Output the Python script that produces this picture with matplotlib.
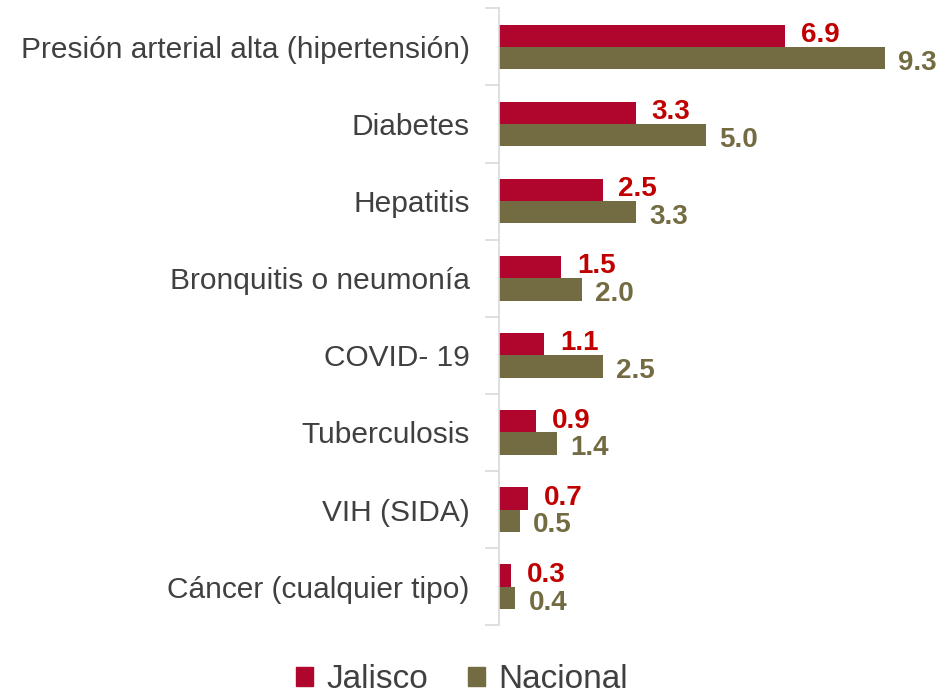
import numpy as np
import matplotlib.pyplot as plt
from matplotlib.patches import Patch

plt.rcParams['font.family'] = ['Liberation Sans', 'DejaVu Sans']

categories = ['Presión arterial alta (hipertensión)', 'Diabetes', 'Hepatitis',
              'Bronquitis o neumonía', 'COVID- 19', 'Tuberculosis', 'VIH (SIDA)',
              'Cáncer (cualquier tipo)']
jalisco = [6.9, 3.3, 2.5, 1.5, 1.1, 0.9, 0.7, 0.3]
nacional = [9.3, 5.0, 3.3, 2.0, 2.5, 1.4, 0.5, 0.4]

c_jal = '#b0052d'
c_nac = '#736b41'
c_jal_txt = '#c00000'

fig = plt.figure(figsize=(9.43, 6.94), dpi=100)
ax = fig.add_axes([0.529, 0.099, 0.44, 0.889])

y = np.arange(len(categories))
h = 0.29
ax.barh(y - h / 2, jalisco, height=h, color=c_jal)
ax.barh(y + h / 2, nacional, height=h, color=c_nac)

# etiquetas de valor
for i in range(len(categories)):
    ax.text(jalisco[i] + 0.38, y[i] - h / 2 - 0.01, '%.1f' % jalisco[i], color=c_jal_txt,
            fontsize=20, fontweight='bold', va='center', ha='left')
    ax.text(nacional[i] + 0.32, y[i] + h / 2 + 0.06, '%.1f' % nacional[i], color=c_nac,
            fontsize=20, fontweight='bold', va='center', ha='left')

ax.set_xlim(0, 10)
ax.set_ylim(len(categories) - 0.5, -0.5)
ax.set_xticks([])
ax.set_yticks(np.arange(-0.5, len(categories), 1))
ax.set_yticklabels([])
ax.set_yticks(y, minor=True)
ax.set_yticklabels(categories, minor=True, fontsize=21.5, color='#404040')
ax.tick_params(axis='y', which='major', length=10, color='#d9d9d9', width=1.2)
ax.tick_params(axis='y', which='minor', length=0, pad=21)
for s in ['top', 'right', 'bottom']:
    ax.spines[s].set_visible(False)
ax.spines['left'].set_color('#d9d9d9')
ax.spines['left'].set_linewidth(1.2)

handles = [Patch(color=c_jal, label='Jalisco'), Patch(color=c_nac, label='Nacional')]
fig.legend(handles=handles, loc='lower center', bbox_to_anchor=(0.49, -0.045), ncol=2,
           frameon=False, fontsize=24, handlelength=0.5, handleheight=0.5,
           handletextpad=0.4, columnspacing=1.2, labelcolor='#404040')

fig.savefig('out.png', dpi=100)
